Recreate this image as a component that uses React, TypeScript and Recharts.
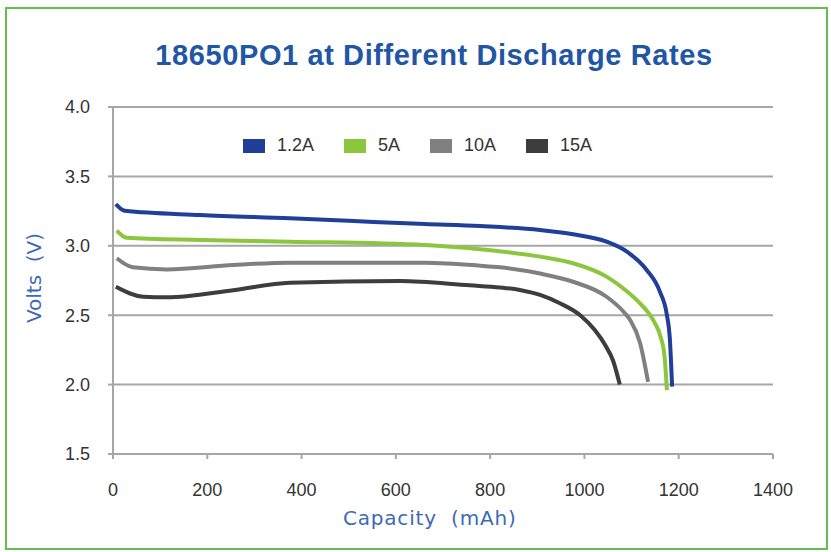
import React from "react";
import { LineChart, Line, XAxis, YAxis, CartesianGrid } from "recharts";

const seriesNames = ["1.2A", "5A", "10A", "15A"];
const seriesColors = ["#1f3f99", "#8cc63e", "#808081", "#3d3d3d"];

const rate12A = [
  [6, 3.3], [25, 3.252], [185, 3.222], [375, 3.198], [500, 3.18], [662, 3.157], [779, 3.142],
  [906, 3.114], [976, 3.083], [1047, 3.03], [1090, 2.958], [1132, 2.826], [1160, 2.67],
  [1175, 2.5], [1181, 2.34], [1186, 1.985],
];
const rate5A = [
  [8, 3.11], [29, 3.058], [185, 3.042], [375, 3.03], [662, 3.006], [779, 2.975], [906, 2.922],
  [976, 2.874], [1047, 2.778], [1090, 2.672], [1118, 2.585], [1135, 2.52], [1150, 2.44],
  [1162, 2.34], [1170, 2.2], [1175, 1.96],
];
const rate10A = [
  [8, 2.91], [42, 2.845], [114, 2.83], [255, 2.862], [375, 2.878], [662, 2.878], [779, 2.857],
  [821, 2.845], [906, 2.8], [976, 2.741], [1047, 2.633], [1083, 2.525], [1097, 2.465],
  [1118, 2.3], [1135, 2.02],
];
const rate15A = [
  [6, 2.705], [64, 2.633], [114, 2.629], [255, 2.68], [375, 2.734], [609, 2.746], [757, 2.715],
  [821, 2.7], [863, 2.682], [906, 2.646], [948, 2.586], [991, 2.5], [1022, 2.393], [1044, 2.285],
  [1061, 2.17], [1075, 2.0],
];

const xTicks = [0, 200, 400, 600, 800, 1000, 1200, 1400];
const yTicks = [1.5, 2.0, 2.5, 3.0, 3.5, 4.0];

const allSeries = [rate12A, rate5A, rate10A, rate15A].map((pts) =>
  pts.map(([c, v]) => ({ cap: c, volt: v }))
);

const tickStyle = { fontFamily: "Liberation Sans, Arial, sans-serif", fontSize: 18, fill: "#333333" };

const LegendBox = () => (
  <div style={{ position: "absolute", top: 135, left: 243, display: "flex", alignItems: "center", fontFamily: "Liberation Sans, Arial, sans-serif", fontSize: 18, color: "#333" }}>
    {seriesNames.map((n, i) => (
      <div key={n} style={{ display: "flex", alignItems: "center", marginRight: 30 }}>
        <div style={{ width: 22, height: 14, background: seriesColors[i], marginRight: 12 }} />
        <span>{n}</span>
      </div>
    ))}
  </div>
);

export default function App() {
  return (
    <div style={{ position: "absolute", left: 0, top: 0, width: 831, height: 552, background: "#fff" }}>
      <div style={{ position: "absolute", left: 5, top: 7, width: 819, height: 539, border: "2.5px solid #63bd4f" }} />
      <div style={{ position: "absolute", left: 0, top: 39, width: 868, textAlign: "center", fontFamily: "Liberation Sans, Arial, sans-serif", fontWeight: "bold", fontSize: 29, letterSpacing: 0.6, color: "#2156a5" }}>
        18650PO1 at Different Discharge Rates
      </div>
      <LineChart width={831} height={552} margin={{ top: 107, right: 58, bottom: 38, left: 0 }} style={{ position: "absolute", left: 0, top: 0 }}>
        <CartesianGrid vertical={false} stroke="#a6a6a6" strokeWidth={2} />
        <XAxis
          type="number"
          dataKey="cap"
          domain={[0, 1400]}
          ticks={xTicks}
          height={60}
          tickSize={5}
          tickMargin={24}
          stroke="#a6a6a6"
          strokeWidth={2}
          tick={tickStyle}
          allowDataOverflow
        />
        <YAxis
          type="number"
          dataKey="volt"
          domain={[1.5, 4.0]}
          ticks={yTicks}
          width={113}
          tickSize={5}
          tickMargin={18}
          stroke="#a6a6a6"
          strokeWidth={2}
          tick={tickStyle}
          tickFormatter={(v: number) => v.toFixed(1)}
          allowDataOverflow
        />
        {allSeries.map((d, i) => (
          <Line
            key={seriesNames[i]}
            data={d}
            dataKey="volt"
            name={seriesNames[i]}
            type="monotone"
            stroke={seriesColors[i]}
            strokeWidth={4}
            dot={false}
            isAnimationActive={false}
          />
        ))}
      </LineChart>
      <LegendBox />
      <div style={{ position: "absolute", left: 343, top: 506, fontFamily: "DejaVu Sans, sans-serif", fontSize: 20, letterSpacing: 0.8, color: "#3d6ab5", whiteSpace: "pre" }}>
        {"Capacity  (mAh)"}
      </div>
      <div style={{ position: "absolute", left: 34, top: 278, transform: "translate(-50%, -50%) rotate(-90deg)", fontFamily: "DejaVu Sans, sans-serif", fontSize: 20, color: "#3d6ab5", whiteSpace: "pre" }}>
        {"Volts  (V)"}
      </div>
    </div>
  );
}
